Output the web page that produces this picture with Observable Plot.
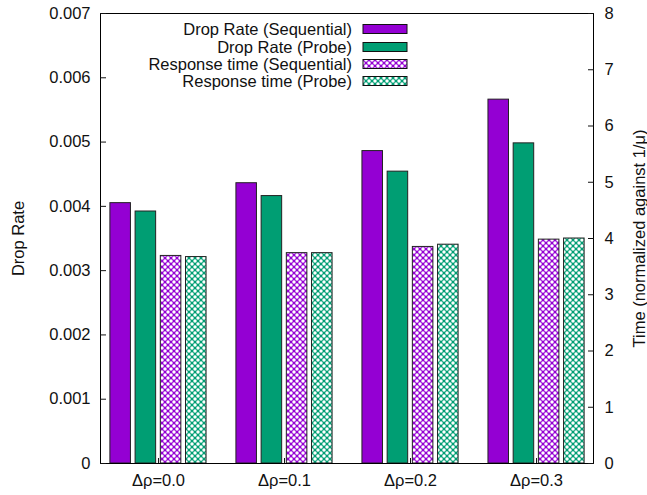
<!DOCTYPE html>
<html><head><meta charset="utf-8">
<script src="https://cdn.jsdelivr.net/npm/d3@7"></script>
<script src="https://cdn.jsdelivr.net/npm/@observablehq/plot@0.6"></script>
<style>
body{margin:0;background:#fff}
#chart svg{font-family:"Liberation Sans",Arial,sans-serif;display:block}
</style>
</head><body><div id="chart"></div>
<script>
const categories = ["Δρ=0.0", "Δρ=0.1", "Δρ=0.2", "Δρ=0.3"];
const dropSeq   = [0.00405, 0.00436, 0.00486, 0.00566];
const dropProbe = [0.00392, 0.00416, 0.00454, 0.00498];
const respSeq   = [3.69, 3.74, 3.85, 3.98];
const respProbe = [3.67, 3.74, 3.89, 4.00];
const seriesNames = ["Drop Rate (Sequential)", "Drop Rate (Probe)", "Response time (Sequential)", "Response time (Probe)"];
const leftTicks = [0, 0.001, 0.002, 0.003, 0.004, 0.005, 0.006, 0.007];
const rightTicks = [0, 1, 2, 3, 4, 5, 6, 7, 8];

const PURPLE = "#9400d3", GREEN = "#009e73";
const DROP_MAX = 0.007, TIME_MAX = 8;
const k = DROP_MAX / TIME_MAX;
const offsets = [-0.3, -0.1, 0.1, 0.3];
const bw = 0.163;

function seriesRows(vals, s, scale) {
  return vals.map((v, i) => ({i, s, v: v * scale, x1: i + offsets[s] - bw / 2, x2: i + offsets[s] + bw / 2}));
}
const series = [
  seriesRows(dropSeq, 0, 1),
  seriesRows(dropProbe, 1, 1),
  seriesRows(respSeq, 2, k),
  seriesRows(respProbe, 3, k)
];
const fills = [PURPLE, GREEN, "url(#patPurple)", "url(#patGreen)"];

const chart = Plot.plot({
  width: 647, height: 495,
  marginLeft: 100, marginRight: 54, marginTop: 13, marginBottom: 32,
  style: {fontSize: "16.5px", color: "#111", background: "#fff"},
  x: {type: "linear", domain: [-0.46, 3.452]},
  y: {domain: [0, DROP_MAX]},
  marks: [
    ...series.map((d, s) => Plot.rectY(d, {x1: "x1", x2: "x2", y1: 0, y2: "v", fill: fills[s], stroke: "#222", strokeWidth: 1})),
    Plot.frame({stroke: "#000"}),
    Plot.axisY({anchor: "left", ticks: leftTicks, tickFormat: d => d === 0 ? "0" : d3.format(".3f")(d), tickSize: -6, tickPadding: 16,
      label: "Drop Rate", labelAnchor: "center", labelOffset: 88, labelArrow: "none"}),
    Plot.axisY({anchor: "right", ticks: rightTicks.map(t => t * k), tickFormat: d => String(Math.round(d / k)), tickSize: -6, tickPadding: 17,
      label: "Time (normalized against 1/μ)", labelAnchor: "center", labelOffset: 51, labelArrow: "none"}),
    Plot.axisX({ticks: [0, 1, 2, 3], tickFormat: i => categories[i], tickSize: -5, tickPadding: 16, label: null})
  ]
});

const svg = d3.select(chart);
const defs = svg.insert("defs", ":first-child");
function addPattern(id, color) {
  const p = defs.append("pattern").attr("id", id).attr("patternUnits", "userSpaceOnUse")
    .attr("width", 6).attr("height", 6);
  p.append("rect").attr("width", 6).attr("height", 6).attr("fill", color);
  [[0,0],[6,0],[0,6],[6,6],[3,3]].forEach(([cx, cy]) =>
    p.append("circle").attr("cx", cx).attr("cy", cy).attr("r", 1.75).attr("fill", "#fff"));
}
addPattern("patPurple", PURPLE);
addPattern("patGreen", GREEN);

// legend (inside plot, top)
const lg = svg.append("g").attr("font-size", "16.5px").attr("fill", "#111");
const rowsY = [29, 47, 64, 81];
seriesNames.forEach((name, s) => {
  lg.append("text").attr("x", 352).attr("y", rowsY[s]).attr("dy", "0.35em").attr("text-anchor", "end").text(name);
  lg.append("rect").attr("x", 363).attr("y", rowsY[s] - 4.5).attr("width", 44).attr("height", 9)
    .attr("fill", fills[s]).attr("stroke", "#111").attr("stroke-width", 1);
});

document.getElementById("chart").appendChild(chart);
</script>
</body></html>
